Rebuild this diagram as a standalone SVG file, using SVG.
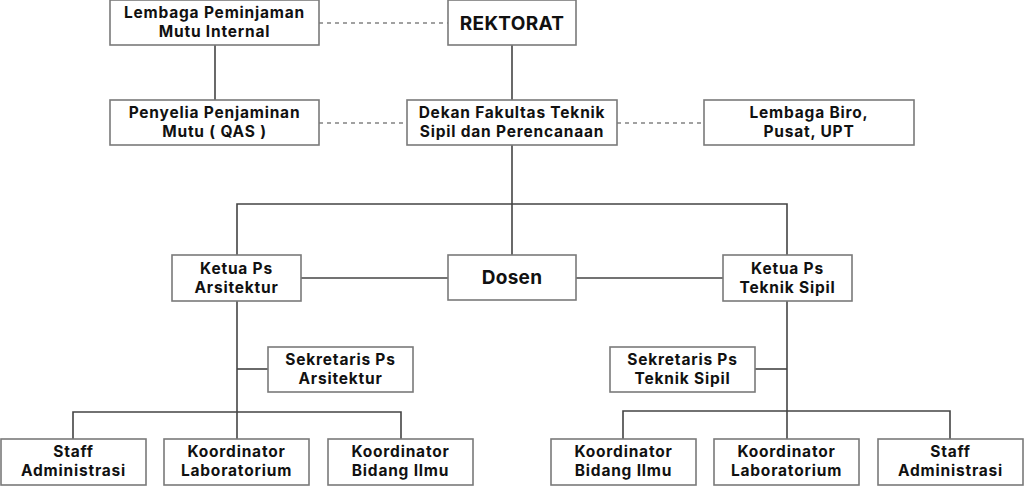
<svg xmlns="http://www.w3.org/2000/svg" width="1024" height="486" viewBox="0 0 1024 486">
<style>
.box{fill:#fff;stroke:#7a7a7a;stroke-width:1.6}
.t{font-family:Inter,"Liberation Sans",sans-serif;font-weight:700;font-size:15.5px;letter-spacing:0.8px;fill:#111;text-anchor:middle}
.big{font-size:19px;letter-spacing:0.3px}
.ln{fill:none;stroke:#444;stroke-width:1.6}
.dash{fill:none;stroke:#444;stroke-width:1.2;stroke-dasharray:4 4}
</style>
<rect width="1024" height="486" fill="#fff"/>
<g id="connectors">
<line class="dash" x1="319" y1="23" x2="448" y2="23"/>
<line class="dash" x1="319" y1="123" x2="407" y2="123"/>
<line class="dash" x1="617" y1="123" x2="704" y2="123"/>
<line class="ln" x1="215" y1="45" x2="215" y2="100"/>
<line class="ln" x1="512" y1="45" x2="512" y2="100"/>
<line class="ln" x1="512" y1="145" x2="512" y2="255"/>
<polyline class="ln" points="237,255 237,204 787,204 787,255"/>
<line class="ln" x1="301" y1="278" x2="448" y2="278"/>
<line class="ln" x1="576" y1="278" x2="723" y2="278"/>
<line class="ln" x1="237" y1="301" x2="237" y2="439"/>
<line class="ln" x1="237" y1="369" x2="268" y2="369"/>
<polyline class="ln" points="73,439 73,412 401,412 401,439"/>
<line class="ln" x1="787" y1="301" x2="787" y2="439"/>
<line class="ln" x1="755" y1="369" x2="787" y2="369"/>
<polyline class="ln" points="623,439 623,411 950,411 950,439"/>
</g>
<g id="lpmi"><rect class="box" x="110" y="0" width="209" height="45"/><text class="t" x="214.5" y="18">Lembaga Peminjaman</text><text class="t" x="214.5" y="37">Mutu Internal</text></g>
<g id="rektorat"><rect class="box" x="448" y="0" width="128" height="45"/><text class="t big" x="512" y="30">REKTORAT</text></g>
<g id="penyelia"><rect class="box" x="110" y="100" width="209" height="45"/><text class="t" x="214.5" y="118">Penyelia Penjaminan</text><text class="t" x="214.5" y="137">Mutu ( QAS )</text></g>
<g id="dekan"><rect class="box" x="407" y="100" width="210" height="45"/><text class="t" x="512" y="118">Dekan Fakultas Teknik</text><text class="t" x="512" y="137">Sipil dan Perencanaan</text></g>
<g id="biro"><rect class="box" x="704" y="100" width="210" height="45"/><text class="t" x="809" y="118">Lembaga Biro,</text><text class="t" x="809" y="137">Pusat, UPT</text></g>
<g id="ketua-ars"><rect class="box" x="172" y="255" width="129" height="46"/><text class="t" x="236.5" y="274">Ketua Ps</text><text class="t" x="236.5" y="293">Arsitektur</text></g>
<g id="dosen"><rect class="box" x="448" y="255" width="128" height="45"/><text class="t big" x="512" y="284">Dosen</text></g>
<g id="ketua-ts"><rect class="box" x="723" y="255" width="129" height="46"/><text class="t" x="787.5" y="274">Ketua Ps</text><text class="t" x="787.5" y="293">Teknik Sipil</text></g>
<g id="sek-ars"><rect class="box" x="268" y="347" width="145" height="45"/><text class="t" x="340.5" y="365">Sekretaris Ps</text><text class="t" x="340.5" y="384">Arsitektur</text></g>
<g id="sek-ts"><rect class="box" x="610" y="347" width="145" height="45"/><text class="t" x="682.5" y="365">Sekretaris Ps</text><text class="t" x="682.5" y="384">Teknik Sipil</text></g>
<g id="staff-ars"><rect class="box" x="1" y="439" width="145" height="46"/><text class="t" x="73.5" y="457">Staff</text><text class="t" x="73.5" y="476">Administrasi</text></g>
<g id="lab-ars"><rect class="box" x="164" y="439" width="145" height="46"/><text class="t" x="236.5" y="457">Koordinator</text><text class="t" x="236.5" y="476">Laboratorium</text></g>
<g id="bidang-ars"><rect class="box" x="328" y="439" width="145" height="46"/><text class="t" x="400.5" y="457">Koordinator</text><text class="t" x="400.5" y="476">Bidang Ilmu</text></g>
<g id="bidang-ts"><rect class="box" x="551" y="439" width="145" height="46"/><text class="t" x="623.5" y="457">Koordinator</text><text class="t" x="623.5" y="476">Bidang Ilmu</text></g>
<g id="lab-ts"><rect class="box" x="714" y="439" width="145" height="46"/><text class="t" x="786.5" y="457">Koordinator</text><text class="t" x="786.5" y="476">Laboratorium</text></g>
<g id="staff-ts"><rect class="box" x="878" y="439" width="145" height="46"/><text class="t" x="950.5" y="457">Staff</text><text class="t" x="950.5" y="476">Administrasi</text></g>
</svg>
